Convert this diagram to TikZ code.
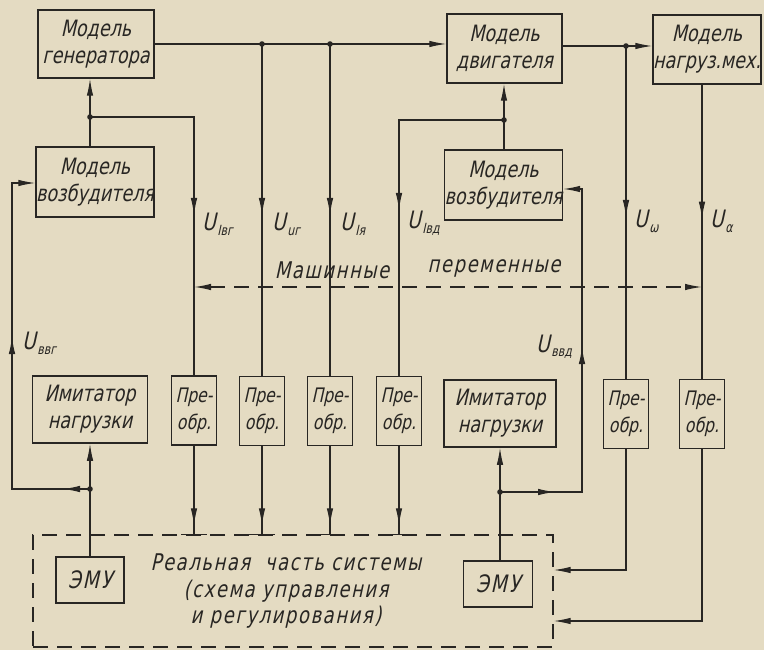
\documentclass[tikz,border=0pt]{standalone}
\usepackage{fontspec}
\setmainfont{DejaVu Sans}[FakeStretch=0.78,FakeSlant=0.22]
\usetikzlibrary{arrows.meta,decorations.markings}
\definecolor{paper}{RGB}{228,219,194}
\definecolor{ink}{RGB}{40,38,35}
\newcommand\Usub[1]{U\kern1.5pt\raisebox{-5pt}{\fontsize{14}{14}\selectfont #1}}
\tikzset{
  ah/.tip={Latex[length=17pt,width=6.5pt]},
  blk/.style={draw=ink,line width=1.5pt,align=center,inner sep=0pt,text=ink,font=\fontsize{22.5}{27}\selectfont},
  pre/.style={blk,minimum width=45pt,minimum height=69pt,font=\fontsize{20}{27}\selectfont},
  ln/.style={draw=ink,line width=1.2pt},
  tip/.style={-{ah}},
  marr/.style={postaction={decorate},decoration={markings,mark=at position #1 with {\arrow{ah}}}},
  dsh/.style={draw=ink,line width=1.4pt,dash pattern=on 15pt off 9pt},
  lab/.style={text=ink,font=\fontsize{24}{24}\selectfont,anchor=base west,inner sep=0pt},
  txt/.style={text=ink,font=\fontsize{23}{26.5}\selectfont\addfontfeature{LetterSpace=7},align=center,inner sep=0pt},
}
\begin{document}
\begin{tikzpicture}[x=1pt,y=-1pt]
\fill[paper] (0,0) rectangle (764,650);
\useasboundingbox (0,0) rectangle (764,650);

% blocks
\node[blk,minimum width=116pt,minimum height=68pt] (gen) at (96,44) {Модель\\генератора};
\node[blk,minimum width=118pt,minimum height=70pt] (vz1) at (95,182) {Модель\\возбудителя};
\node[blk,minimum width=115pt,minimum height=69pt] (dv) at (504.5,48.5) {Модель\\двигателя};
\node[blk,minimum width=108pt,minimum height=69pt] (mx) at (707,49.5) {Модель\\нагруз.мех.};
\node[blk,minimum width=113pt,minimum height=70pt] (vz2) at (503.5,185) {Модель\\возбудителя};
\node[blk,minimum width=115pt,minimum height=67pt] (im1) at (90,409.5) {Имитатор\\нагрузки};
\node[blk,minimum width=112pt,minimum height=67pt] (im2) at (500,413.5) {Имитатор\\нагрузки};
\node[pre] (p1) at (194,410.5) {Пре-\\обр.};
\node[pre] (p2) at (262,411) {Пре-\\обр.};
\node[pre] (p3) at (330,411) {Пре-\\обр.};
\node[pre] (p4) at (399,411) {Пре-\\обр.};
\node[pre] (p5) at (626,414) {Пре-\\обр.};
\node[pre] (p6) at (702,414) {Пре-\\обр.};
\node[blk,minimum width=68pt,minimum height=46pt,font=\fontsize{24}{27}\selectfont\addfontfeature{LetterSpace=8}] (e1) at (90,580) {ЭМУ};
\node[blk,minimum width=69pt,minimum height=46pt,font=\fontsize{24}{27}\selectfont\addfontfeature{LetterSpace=8}] (e2) at (498,584) {ЭМУ};

% real part
\node[dsh,minimum width=520pt,minimum height=112pt,inner sep=0pt] (rb) at (293,591) {};
\node[txt] (rt) at (286,591.5) {Реальная \ часть системы\\(схема управления\\и регулирования)};

% junctions
\coordinate (d1) at (262,44);
\coordinate (d2) at (330,44);
\coordinate (d3) at (626,46);
\coordinate (dg) at (90,117);
\coordinate (dd) at (504,120);
\coordinate (dL) at (90,489);
\coordinate (dR) at (500,492);
\foreach \c in {d1,d2,d3,dg,dd,dL,dR} \fill[ink] (\c) circle (2.8pt);

% top signal lines
\draw[ln,tip] (gen.east) -- (dv.west |- gen.east);
\draw[ln,tip] (dv.east |- d3) -- (mx.west |- d3);
\draw[ln,tip] (vz1.north -| dg) -- (gen.south -| dg);
\draw[ln,tip] (vz2.north -| dd) -- (dv.south -| dd);
\draw[ln,marr=171pt] (d1) -- (p2.north);
\draw[ln,marr=171pt] (d2) -- (p3.north);
\draw[ln,marr=171pt] (d3) -- (p5.north);
\draw[ln,marr=134pt] (mx.south -| p6.north) -- (p6.north);
\draw[ln,marr=202pt] (dg) -- (dg -| p1.north) -- (p1.north);
\draw[ln,marr=195pt] (dd) -- (dd -| p4.north) -- (p4.north);

% left loop
\draw[ln] (e1.north) -- (dL);
\draw[ln,tip] (dL) -- (im1.south -| dL);
\coordinate (L1) at (12,489);
\coordinate (L2) at (12,183);
\draw[ln,tip,postaction={decorate},decoration={markings,mark=at position 27pt with {\arrow{ah}},mark=at position 230pt with {\arrow{ah}}}]
  (dL) -- (L1) -- (L2) -- (vz1.west |- L2);

% right loop
\draw[ln] (e2.north -| dR) -- (dR);
\draw[ln,tip] (dR) -- (im2.south -| dR);
\coordinate (R1) at (582,492);
\coordinate (R2) at (582,189);
\draw[ln,tip,postaction={decorate},decoration={markings,mark=at position 55pt with {\arrow{ah}},mark=at position 227pt with {\arrow{ah}}}]
  (dR) -- (R1) -- (R2) -- (vz2.east |- R2);

% converters to real part
\foreach \p in {p1,p2,p3,p4}{
  \draw[ln,marr=-9pt] (\p.south) -- (\p.south |- rb.north);
  \draw[ink,line width=1.4pt] ([xshift=-13pt]\p.south |- rb.north) -- ([xshift=13pt]\p.south |- rb.north);
}
\coordinate (k5) at (626,570);
\coordinate (k6) at (702,621);
\draw[ln,tip] (p5.south) -- (k5) -- (rb.east |- k5);
\draw[ln,tip] (p6.south) -- (k6) -- (rb.east |- k6);

% machine variables
\coordinate (m1) at (194,287);
\coordinate (m2) at (702,287);
\draw[dsh,{ah}-{ah}] (m1) -- (m2);
\node[txt] (mt1) at (332,270) {Машинные};
\node[txt] (mt2) at (494,268) {переменные};

% labels
\node[lab] (l1) at (202,231) {\Usub{Iвг}};
\node[lab] (l2) at (272,231) {\Usub{uг}};
\node[lab] (l3) at (340,231) {\Usub{Iя}};
\node[lab] (l4) at (407,229) {\Usub{Iвд}};
\node[lab] (l5) at (634,228) {\Usub{ω}};
\node[lab] (l6) at (710,228) {\Usub{α}};
\node[lab] (l7) at (22,349) {\Usub{ввг}};
\node[lab] (l8) at (536,352) {\Usub{ввд}};
\end{tikzpicture}
\end{document}
